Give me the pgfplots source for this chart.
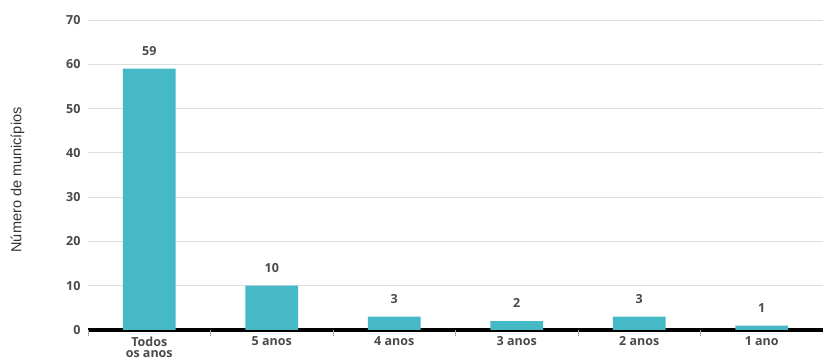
\documentclass[border=0pt]{standalone}
\usepackage{pgfplots}
\pgfplotsset{compat=1.18}
\usepackage{fontspec}
\setmainfont{Open Sans}
\newfontfamily\arialfont{Liberation Sans}
\definecolor{barteal}{HTML}{45B9C5}
\definecolor{gridgray}{HTML}{DEDEDE}
\definecolor{labelgray}{HTML}{4A4A4A}

\begin{document}
\begin{tikzpicture}
\begin{axis}[
  name=ax,
  scale only axis,
  width=735pt, height=310pt,
  xmin=-0.5, xmax=5.5,
  ymin=0, ymax=70,
  /pgf/number format/assume math mode=true,
  axis lines*=left,
  y axis line style={draw=none},
  x axis line style={line width=3.5pt, black, -},
  ytick={0,10,...,70},
  ymajorgrids,
  grid style={gridgray, line width=0.9pt},
  ytick style={draw=none},
  xtick={0,1,2,3,4,5},
  xticklabels={{Todos\\os anos},{5 anos},{4 anos},{3 anos},{2 anos},{1 ano}},
  major tick length=0pt,
  extra x ticks={-0.5,0.5,1.5,2.5,3.5,4.5},
  extra x tick labels={},
  extra x tick style={major tick length=6pt, tick align=outside,
    tick style={gray!70, line width=0.8pt}, grid=none},
  xticklabel style={font=\bfseries\fontsize{12.5}{11.5}\selectfont, text=labelgray,
    align=center, anchor=north, yshift=-3pt},
  yticklabel style={font=\bfseries\fontsize{12.5}{13}\selectfont, text=labelgray,
    anchor=east, xshift=-4pt},
  every axis y label/.style={at={(axis description cs:-0.096,0.484)},
    rotate=90, anchor=center},
  ylabel={\arialfont\fontsize{14.5}{15}\selectfont Número de municípios},
  ylabel style={text=black!80},
  ybar, bar width=0.43,
  nodes near coords,
  every node near coord/.append style={font=\bfseries\fontsize{12.5}{13}\selectfont,
    text=labelgray, yshift=10pt},
  clip=false,
]
\addplot[fill=barteal, draw=none] coordinates {
  (0,59) (1,10) (2,3) (3,2) (4,3) (5,1)
};
\end{axis}
\pgfresetboundingbox
\path ([xshift=-88pt,yshift=-33pt]ax.south west) rectangle ([yshift=20pt]ax.north east);
\end{tikzpicture}
\end{document}
